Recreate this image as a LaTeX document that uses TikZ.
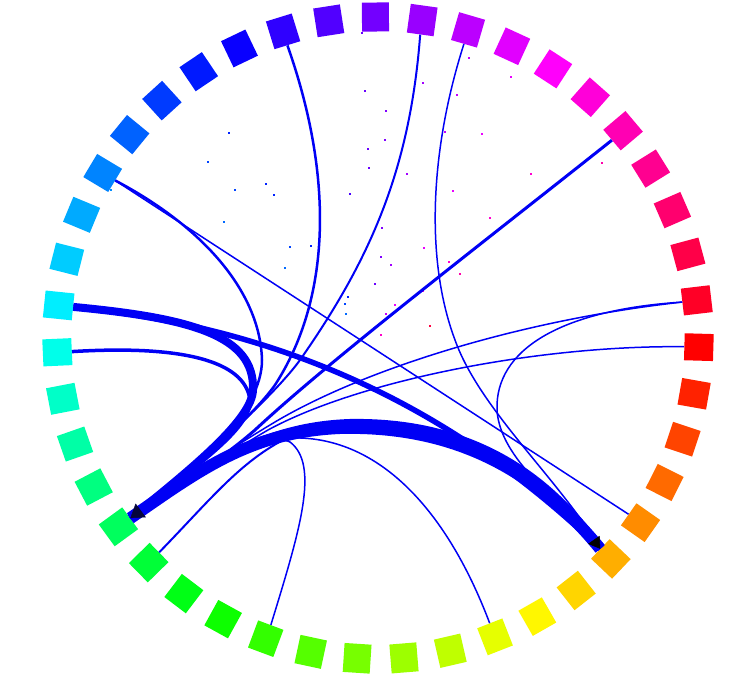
\documentclass[tikz,border=0pt]{standalone}
\usetikzlibrary{arrows.meta,calc}
\tikzset{
  sqbox/.style={rectangle, inner sep=0pt, minimum width=27pt, minimum height=29pt, draw=none},
  link/.style={draw={rgb,255:red,0;green,0;blue,245}, line cap=butt},
  tipA/.style={-{Triangle[length=13pt,width=17pt,color={rgb,255:red,5;green,5;blue,60}]}},
  tipB/.style={-{Triangle[length=11pt,width=14pt,color=black]}},
}
\begin{document}
\begin{tikzpicture}[x=1pt,y=1pt]
\useasboundingbox (0,0) rectangle (756,676);
\fill[white] (0,0) rectangle (756,676);
\coordinate (C) at (378,338);
% ring of coloured boxes
\foreach \k in {1,...,43}{
  \pgfmathsetmacro\ang{107.2-(\k-1)*360/43}
  \pgfmathtruncatemacro\hu{mod((\k-14)*360/43+720,360)}
  \definecolor{tmpc}{Hsb}{\hu,1,1}
  \colorlet{sqc}[rgb]{tmpc}
  \node[sqbox, fill=sqc, rotate=\ang-90] (s\k) at ($(C)+(\ang:321)$) {};
}
% connectors, control points given in pixel coordinates (y downwards)
\begin{scope}[shift={(0,676)}, yscale=-1]
  % tiny dots
  \foreach \x/\y in {365/91,423/83,457/95,511/77,386/111,229/133,445/132,482/134,385/140,368/149,208/162,369/168,407/174,266/184,235/190,274/195,350/194,453/191,224/222,490/218,382/228,311/246,290/247,424/248,381/257,449/262,391/265,285/268,460/274,375/284,423/291,348/297,345/304,395/305,346/314,386/314,430/326,381/335,111/190,602/163,531/174,362/33,469/58}{
    \pgfmathtruncatemacro\hu{mod(358.2-atan2(338-\y,\x-378)+720,360)}
    \definecolor{tmpd}{Hsb}{\hu,1,1}
    \colorlet{dc}[rgb]{tmpd}
    \fill[dc] (\x-0.7,\y-0.7) rectangle (\x+0.7,\y+0.7);
  }
  \coordinate (pa) at (168,490);
  \coordinate (pb) at (578,517);
  \draw[link, line width=1.5pt] (s39.south) -- (s18.south);
  \draw[link, line width=2.5pt] (s1.south) .. controls (335,180) and (330,300) .. (275,385) .. controls (250,420) and (190,470) .. (s31.south);
  \draw[link, line width=2pt] (s4.south) .. controls (410,170) and (370,260) .. (300,360) .. controls (275,395) and (195,468) .. (s31.south);
  \draw[link, line width=3pt] (s9.south) .. controls (480,245) and (330,360) .. (255,430) .. controls (215,465) and (170,490) .. (s31.south);
  \draw[link, line width=2.5pt] (s39.south) .. controls (200,225) and (260,290) .. (262,360) .. controls (262,410) and (200,470) .. (s31.south);
  \draw[link, line width=8pt] (s36.south) .. controls (190,318) and (255,335) .. (253,390) .. controls (252,420) and (190,470) .. (s31.south);
  \draw[link, line width=5.5pt] (s36.south) .. controls (250,325) and (430,385) .. (s19.south);
  \draw[link, line width=3.5pt] (s35.south) .. controls (180,345) and (245,360) .. (250,400) .. controls (252,430) and (190,470) .. (s31.south);
  \draw[link, line width=1.5pt] (s13.south) .. controls (520,320) and (360,370) .. (270,425) .. controls (220,455) and (170,490) .. (s31.south);
  \draw[link, line width=1.5pt] (s14.south) .. controls (540,345) and (360,380) .. (268,430) .. controls (225,455) and (175,490) .. (s31.south);
  \draw[link, line width=1.5pt] (s13.south) .. controls (560,310) and (495,350) .. (497,410) .. controls (500,460) and (560,500) .. (s19.south);
  \draw[link, line width=1.5pt] (s5.south) .. controls (430,150) and (425,260) .. (455,340) .. controls (480,410) and (560,480) .. (s19.south);
  \draw[link, line width=2pt] (s30.south) .. controls (215,495) and (245,455) .. (300,432) .. controls (420,400) and (545,455) .. (s19.south);
  \draw[link, line width=1.5pt] (s27.south) .. controls (300,530) and (320,465) .. (290,442) .. controls (265,430) and (185,475) .. (s31.south);
  \draw[link, line width=1.5pt] (s22.south) .. controls (445,505) and (375,435) .. (290,438) .. controls (240,437) and (180,480) .. (s31.south);
  \draw[link, line width=12pt] (s31.south) .. controls (200,470) and (250,432) .. (340,428) .. controls (460,425) and (540,475) .. (s19.south);
  \draw[link, line width=8pt] (s31.south) .. controls (205,468) and (260,426) .. (350,423) .. controls (465,421) and (545,470) .. (s19.south);
  % arrow heads
  \draw[link, line width=0.5pt, tipA] (pa) -- (s31.south);
  \draw[link, line width=0.5pt, tipB] (pb) -- (s19.south);
\end{scope}
\end{tikzpicture}
\end{document}
